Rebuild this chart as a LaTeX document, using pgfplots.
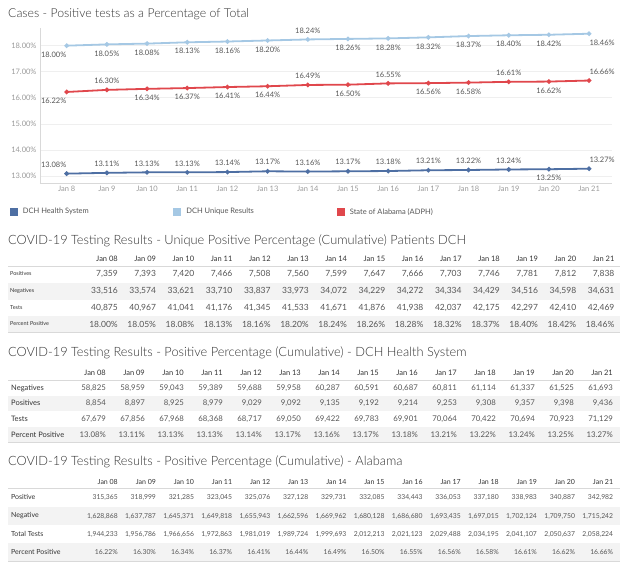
\documentclass[border=0pt]{standalone}
\usepackage{pgfplots}
\pgfplotsset{compat=1.18}
\usepackage{fontspec}
\setmainfont{Lato}
\newfontfamily\lightfont{Lato}[UprightFont={* Light}]
\definecolor{dchblue}{HTML}{4E6FA3}
\definecolor{uniq}{HTML}{A5C8E4}
\definecolor{alred}{HTML}{E0474C}
\definecolor{txt}{HTML}{555555}
\definecolor{ttl}{HTML}{333333}
\definecolor{rowshade}{HTML}{F3F3F3}
\definecolor{rulec}{HTML}{D9D9D9}
\definecolor{gridc}{HTML}{EFEFEF}
\definecolor{tickc}{HTML}{999999}

\pgfplotstableread{
x y ys xs
8 13.08 9 -13
9 13.11 9 0
10 13.13 9 0
11 13.13 9 0
12 13.14 9 0
13 13.17 9 0
14 13.16 9 0
15 13.17 9 0
16 13.18 9 0
17 13.21 9 0
18 13.22 9 0
19 13.24 9 0
20 13.25 -9 0
21 13.27 9 13
}\dchdata
\pgfplotstableread{
x y ys xs
8 18.00 -9 -13
9 18.05 -9 0
10 18.08 -9 0
11 18.13 -9 0
12 18.16 -9 0
13 18.20 -9 0
14 18.24 9 0
15 18.26 -9 0
16 18.28 -9 0
17 18.32 -9 0
18 18.37 -9 0
19 18.40 -9 0
20 18.42 -9 0
21 18.46 -9 13
}\uniqdata
\pgfplotstableread{
x y ys xs
8 16.22 -9 -13
9 16.30 9 0
10 16.34 -9 0
11 16.37 -9 0
12 16.41 -9 0
13 16.44 -9 0
14 16.49 9 0
15 16.50 -9 0
16 16.55 9 0
17 16.56 -9 0
18 16.58 -9 0
19 16.61 9 0
20 16.62 -9 0
21 16.66 9 13
}\aldata

\pgfplotsset{lab/.style={
  nodes near coords={\pgfmathprintnumber[fixed,fixed zerofill,precision=2]{\pgfplotspointmeta}\%},
  point meta=y,
  visualization depends on={\thisrow{ys}\as\ys},
  visualization depends on={\thisrow{xs}\as\xs},
  every node near coord/.append style={anchor=center, yshift=\ys pt, xshift=\xs pt,
     font=\fontsize{7.5}{8}\selectfont, text=txt, inner sep=0pt}}}

\newcommand\numfmt[1]{\pgfmathprintnumber[assume math mode=true,fixed,precision=0,1000 sep={,}]{#1}}
\newcommand\pctfmt[1]{\pgfmathprintnumber[assume math mode=true,fixed,fixed zerofill,precision=2]{#1}\%}

\begin{document}
\begin{tikzpicture}[x=1pt,y=1pt]
\path[use as bounding box] (0,0) rectangle (624,-564);
\node[anchor=west, font=\lightfont\fontsize{12.3}{14}\selectfont, text=ttl, inner sep=0] at (8,-14) {Cases - Positive tests as a Percentage of Total};
\begin{axis}[at={(40pt,-183pt)}, anchor=south west, scale only axis,
  width=572pt, height=155pt,
  xmin=7.336, xmax=21.57, ymin=12.72, ymax=18.68,
  axis x line=bottom, axis y line=left,
  axis line style={draw=rulec, -},
  /pgf/number format/assume math mode=true,
  ytick={13,14,15,16,17,18},
  yticklabel={\pgfmathprintnumber[fixed,fixed zerofill,precision=2]{\tick}\%},
  y tick label style={font=\fontsize{7.5}{8}\selectfont, text=tickc},
  xtick={8,9,...,21},
  xticklabels={Jan 8,Jan 9,Jan 10,Jan 11,Jan 12,Jan 13,Jan 14,Jan 15,Jan 16,Jan 17,Jan 18,Jan 19,Jan 20,Jan 21},
  x tick label style={font=\fontsize{7.5}{8}\selectfont, text=tickc},
  major tick length=0pt,
  ymajorgrids, grid style={draw=gridc},
  clip=false,
  legend columns=3,
  legend style={at={(-0.053,-0.187)}, anchor=west, draw=none, fill=none,
     font=\fontsize{7.5}{8}\selectfont, text=txt, inner sep=0pt,
     /tikz/every odd column/.append style={column sep=3pt}},
  legend image code/.code={\fill[#1,draw=none] (0pt,-4pt) rectangle (8pt,4pt);},
]
\addplot[color=dchblue, line width=1.8pt, mark=*, mark size=1.3pt, lab] table[x=x,y=y] {\dchdata};
\addlegendentry{\makebox[148.5pt][l]{DCH Health System}}
\addplot[color=uniq, line width=1.8pt, mark=*, mark size=1.3pt, lab] table[x=x,y=y] {\uniqdata};
\addlegendentry{\makebox[148.5pt][l]{DCH Unique Results}}
\addplot[color=alred, line width=1.8pt, mark=*, mark size=1.3pt, lab] table[x=x,y=y] {\aldata};
\addlegendentry{\makebox[148.5pt][l]{State of Alabama (ADPH)}}
\end{axis}

% ---------- Table 1 ----------
\node[anchor=west, font=\lightfont\fontsize{12.8}{14}\selectfont, text=ttl, inner sep=0] at (8,-241) {COVID-19 Testing Results - Unique Positive Percentage (Cumulative) Patients DCH};
\fill[rowshade] (8,-283) rectangle (620,-299.5);
\fill[rowshade] (8,-316) rectangle (620,-332);
\draw[rulec, line width=0.6pt] (8,-266.5) -- (620,-266.5);
\draw[rulec, line width=0.6pt] (8,-332.5) -- (620,-332.5);
\foreach \d [count=\i from 0] in {08,09,10,11,12,13,14,15,16,17,18,19,20,21}
  \node[anchor=east, inner sep=0, font=\fontsize{7.5}{8}\selectfont, text=ttl] at ({118+38.2*\i},-259) {Jan \d};
\foreach \lab/\yy in {Positives/274,Negatives/291,Tests/308,Percent Positive/324}
  \node[anchor=west, inner sep=0, font=\fontsize{5.5}{6}\selectfont, text=ttl] at (10,-\yy) {\lab};
\foreach \v [count=\i from 0] in {7359,7393,7420,7466,7508,7560,7599,7647,7666,7703,7746,7781,7812,7838}
  \node[anchor=east, inner sep=0, font=\fontsize{8.5}{9}\selectfont, text=txt] at ({118+38.2*\i},-274) {\numfmt{\v}};
\foreach \v [count=\i from 0] in {33516,33574,33621,33710,33837,33973,34072,34229,34272,34334,34429,34516,34598,34631}
  \node[anchor=east, inner sep=0, font=\fontsize{8.5}{9}\selectfont, text=txt] at ({118+38.2*\i},-291) {\numfmt{\v}};
\foreach \v [count=\i from 0] in {40875,40967,41041,41176,41345,41533,41671,41876,41938,42037,42175,42297,42410,42469}
  \node[anchor=east, inner sep=0, font=\fontsize{8.5}{9}\selectfont, text=txt] at ({118+38.2*\i},-308) {\numfmt{\v}};
\foreach \v [count=\i from 0] in {18.00,18.05,18.08,18.13,18.16,18.20,18.24,18.26,18.28,18.32,18.37,18.40,18.42,18.46}
  \node[anchor=east, inner sep=0, font=\fontsize{8.5}{9}\selectfont, text=txt] at ({118+38.2*\i},-324) {\pctfmt{\v}};

% ---------- Table 2 ----------
\node[anchor=west, font=\lightfont\fontsize{12.8}{14}\selectfont, text=ttl, inner sep=0] at (8,-353) {COVID-19 Testing Results - Positive Percentage (Cumulative) - DCH Health System};
\fill[rowshade] (8,-395.5) rectangle (620,-411);
\fill[rowshade] (8,-427) rectangle (620,-442);
\draw[rulec, line width=0.6pt] (8,-380.5) -- (620,-380.5);
\draw[rulec, line width=0.6pt] (8,-442.5) -- (620,-442.5);
\foreach \d [count=\i from 0] in {08,09,10,11,12,13,14,15,16,17,18,19,20,21}
  \node[anchor=east, inner sep=0, font=\fontsize{7.5}{8}\selectfont, text=ttl] at ({106+39*\i},-373) {Jan \d};
\foreach \lab/\yy in {Negatives/388,Positives/403,Tests/419,Percent Positive/435}
  \node[anchor=west, inner sep=0, font=\fontsize{7.5}{8}\selectfont, text=ttl] at (11,-\yy) {\lab};
\foreach \v [count=\i from 0] in {58825,58959,59043,59389,59688,59958,60287,60591,60687,60811,61114,61337,61525,61693}
  \node[anchor=east, inner sep=0, font=\fontsize{7.8}{9}\selectfont, text=txt] at ({106+39*\i},-388) {\numfmt{\v}};
\foreach \v [count=\i from 0] in {8854,8897,8925,8979,9029,9092,9135,9192,9214,9253,9308,9357,9398,9436}
  \node[anchor=east, inner sep=0, font=\fontsize{7.8}{9}\selectfont, text=txt] at ({106+39*\i},-403) {\numfmt{\v}};
\foreach \v [count=\i from 0] in {67679,67856,67968,68368,68717,69050,69422,69783,69901,70064,70422,70694,70923,71129}
  \node[anchor=east, inner sep=0, font=\fontsize{7.8}{9}\selectfont, text=txt] at ({106+39*\i},-419) {\numfmt{\v}};
\foreach \v [count=\i from 0] in {13.08,13.11,13.13,13.13,13.14,13.17,13.16,13.17,13.18,13.21,13.22,13.24,13.25,13.27}
  \node[anchor=east, inner sep=0, font=\fontsize{7.8}{9}\selectfont, text=txt] at ({106+39*\i},-435) {\pctfmt{\v}};

% ---------- Table 3 ----------
\node[anchor=west, font=\lightfont\fontsize{12.8}{14}\selectfont, text=ttl, inner sep=0] at (8,-462) {COVID-19 Testing Results - Positive Percentage (Cumulative) - Alabama};
\fill[rowshade] (8,-507) rectangle (620,-525);
\fill[rowshade] (8,-543) rectangle (620,-561);
\draw[rulec, line width=0.6pt] (8,-488.5) -- (620,-488.5);
\draw[rulec, line width=0.6pt] (8,-561.5) -- (620,-561.5);
\foreach \d [count=\i from 0] in {08,09,10,11,12,13,14,15,16,17,18,19,20,21}
  \node[anchor=east, inner sep=0, font=\fontsize{7}{8}\selectfont, text=ttl] at ({118+38.1*\i},-482) {Jan \d};
\foreach \lab/\yy in {Positive/497,Negative/516,Total Tests/534,Percent Positive/552}
  \node[anchor=west, inner sep=0, font=\fontsize{7}{8}\selectfont, text=ttl] at (11,-\yy) {\lab};
\foreach \v [count=\i from 0] in {315365,318999,321285,323045,325076,327128,329731,332085,334443,336053,337180,338983,340887,342982}
  \node[anchor=east, inner sep=0, font=\fontsize{6.8}{8}\selectfont, text=txt] at ({118+38.1*\i},-497) {\numfmt{\v}};
\foreach \v [count=\i from 0] in {1628868,1637787,1645371,1649818,1655943,1662596,1669962,1680128,1686680,1693435,1697015,1702124,1709750,1715242}
  \node[anchor=east, inner sep=0, font=\fontsize{6.8}{8}\selectfont, text=txt] at ({118+38.1*\i},-516) {\numfmt{\v}};
\foreach \v [count=\i from 0] in {1944233,1956786,1966656,1972863,1981019,1989724,1999693,2012213,2021123,2029488,2034195,2041107,2050637,2058224}
  \node[anchor=east, inner sep=0, font=\fontsize{6.8}{8}\selectfont, text=txt] at ({118+38.1*\i},-534) {\numfmt{\v}};
\foreach \v [count=\i from 0] in {16.22,16.30,16.34,16.37,16.41,16.44,16.49,16.50,16.55,16.56,16.58,16.61,16.62,16.66}
  \node[anchor=east, inner sep=0, font=\fontsize{6.8}{8}\selectfont, text=txt] at ({118+38.1*\i},-552) {\pctfmt{\v}};
\end{tikzpicture}
\end{document}
